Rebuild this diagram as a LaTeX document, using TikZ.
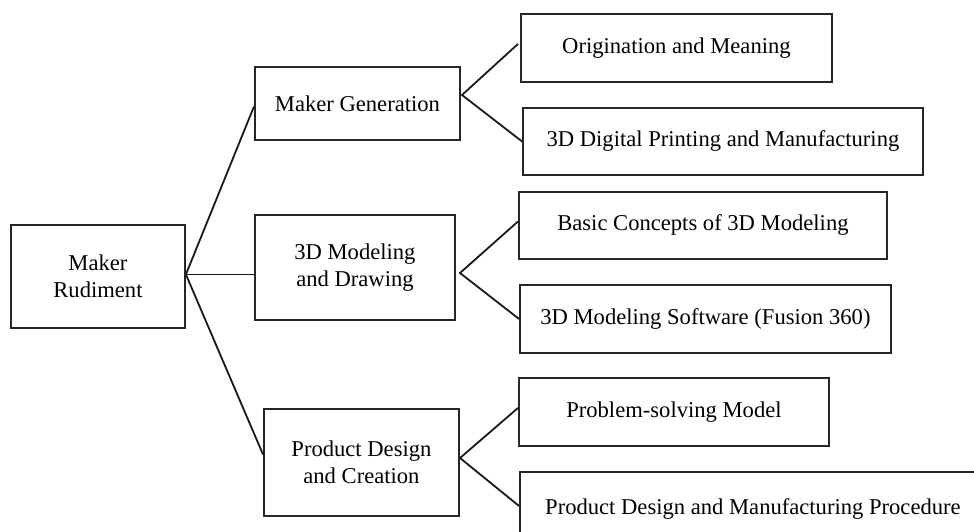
\documentclass[tikz,border=0pt]{standalone}
\usepackage{fontspec}
\setmainfont{Liberation Serif}
\usetikzlibrary{calc}
\begin{document}
\begin{tikzpicture}[x=1pt,y=-1pt,
  box/.style={draw=black!85, line width=1.9pt, anchor=north west, inner sep=0pt,
    align=center, font=\fontsize{22.6}{27.5}\selectfont},
  link/.style={draw=black!90, line width=1.8pt}]
\useasboundingbox (0,0) rectangle (974,532);
\clip (0,0) rectangle (974,532);

% root and first level
\node[box, minimum width=174, minimum height=103] (root) at (10,224) {Maker\\Rudiment};
\node[box, minimum width=205, minimum height=73]  (mg)   at (254,66)  {Maker Generation};
\node[box, minimum width=200, minimum height=105] (md)   at (254,214) {3D Modeling\\and Drawing};
\node[box, minimum width=195, minimum height=107] (pd)   at (263,408) {Product Design\\and Creation};

% second level
\node[box, minimum width=311, minimum height=68] (c1) at (520,13)  {Origination and Meaning};
\node[box, minimum width=400, minimum height=67] (c2) at (522,107) {3D Digital Printing and Manufacturing};
\node[box, minimum width=368, minimum height=67] (c3) at (518,191) {Basic Concepts of 3D Modeling};
\node[box, minimum width=371, minimum height=68] (c4) at (519,284) {3D Modeling Software (Fusion 360)};
\node[box, minimum width=310, minimum height=68] (c5) at (518,377) {Problem-solving Model};
\node[box, minimum width=466, minimum height=74] (c6) at (519,471) {Product Design and Manufacturing Procedure};

% branching points
\coordinate (r)  at ($(root.east)+(0,-2)$);
\coordinate (f1) at (462,95);
\coordinate (f2) at (460,273);
\coordinate (f3) at (460,458);

% connectors from the root
\draw[link] (r) -- ($(mg.west)+(0,3)$);
\draw[link] (r) -- (md.west |- r);
\draw[link] (r) -- ($(pd.west)+(0,-8)$);

% connectors to the topics
\draw[link] ($(c1.west)+(-2,-4)$) -- (f1) -- (c2.west);
\draw[link] ($(c3.west)+(0,-4)$) -- (f2) -- (c4.west);
\draw[link] ($(c5.west)+(0,-4)$) -- (f3) -- ($(c6.west)+(0,-3)$);
\end{tikzpicture}
\end{document}
